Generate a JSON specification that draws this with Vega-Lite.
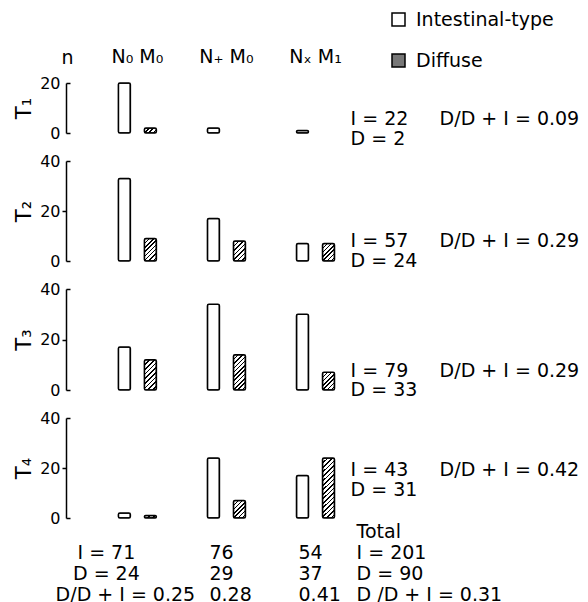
{
  "$schema": "https://vega.github.io/schema/vega-lite/v6.json",
  "padding": {"left": 13, "top": 10, "right": 5, "bottom": 2},
  "bounds": "flush",
  "spacing": 28,
  "config": {
    "font": "DejaVu Sans",
    "view": {"stroke": null},
    "text": {"font": "DejaVu Sans", "fontSize": 19, "color": "black"},
    "bar": {"stroke": "black", "strokeWidth": 1.5, "cornerRadius": 1.5},
    "axis": {"labelFont": "DejaVu Sans", "titleFont": "DejaVu Sans", "labelColor": "black", "titleColor": "black", "domainColor": "black", "tickColor": "black"},
    "legend": {"labelFont": "DejaVu Sans"}
  },
  "datasets": {
    "bars": [
      {"T": "T1", "col": "N₀ M₀", "type": "Intestinal-type", "n": 20},
      {"T": "T1", "col": "N₀ M₀", "type": "Diffuse", "n": 2},
      {"T": "T1", "col": "N₊ M₀", "type": "Intestinal-type", "n": 2},
      {"T": "T1", "col": "Nₓ M₁", "type": "Intestinal-type", "n": 1},
      {"T": "T2", "col": "N₀ M₀", "type": "Intestinal-type", "n": 33},
      {"T": "T2", "col": "N₀ M₀", "type": "Diffuse", "n": 9},
      {"T": "T2", "col": "N₊ M₀", "type": "Intestinal-type", "n": 17},
      {"T": "T2", "col": "N₊ M₀", "type": "Diffuse", "n": 8},
      {"T": "T2", "col": "Nₓ M₁", "type": "Intestinal-type", "n": 7},
      {"T": "T2", "col": "Nₓ M₁", "type": "Diffuse", "n": 7},
      {"T": "T3", "col": "N₀ M₀", "type": "Intestinal-type", "n": 17},
      {"T": "T3", "col": "N₀ M₀", "type": "Diffuse", "n": 12},
      {"T": "T3", "col": "N₊ M₀", "type": "Intestinal-type", "n": 34},
      {"T": "T3", "col": "N₊ M₀", "type": "Diffuse", "n": 14},
      {"T": "T3", "col": "Nₓ M₁", "type": "Intestinal-type", "n": 30},
      {"T": "T3", "col": "Nₓ M₁", "type": "Diffuse", "n": 7},
      {"T": "T4", "col": "N₀ M₀", "type": "Intestinal-type", "n": 2},
      {"T": "T4", "col": "N₀ M₀", "type": "Diffuse", "n": 1},
      {"T": "T4", "col": "N₊ M₀", "type": "Intestinal-type", "n": 24},
      {"T": "T4", "col": "N₊ M₀", "type": "Diffuse", "n": 7},
      {"T": "T4", "col": "Nₓ M₁", "type": "Intestinal-type", "n": 17},
      {"T": "T4", "col": "Nₓ M₁", "type": "Diffuse", "n": 24}
    ],
    "notes": [
      {"T": "T1", "col": "I/D", "label": "I = 22\nD = 2"},
      {"T": "T1", "col": "ratio", "label": "D/D + I = 0.09"},
      {"T": "T2", "col": "I/D", "label": "I = 57\nD = 24"},
      {"T": "T2", "col": "ratio", "label": "D/D + I = 0.29"},
      {"T": "T3", "col": "I/D", "label": "I = 79\nD = 33"},
      {"T": "T3", "col": "ratio", "label": "D/D + I = 0.29"},
      {"T": "T4", "col": "I/D", "label": "I = 43\nD = 31"},
      {"T": "T4", "col": "ratio", "label": "D/D + I = 0.42"}
    ],
    "totals": [
      {"col": "N₀ M₀", "stat": "I", "label": "I = 71"},
      {"col": "N₀ M₀", "stat": "D", "label": "D = 24"},
      {"col": "N₀ M₀", "stat": "R", "label": "D/D + I = 0.25"},
      {"col": "N₊ M₀", "stat": "I", "label": "76"},
      {"col": "N₊ M₀", "stat": "D", "label": "29"},
      {"col": "N₊ M₀", "stat": "R", "label": "0.28"},
      {"col": "Nₓ M₁", "stat": "I", "label": "54"},
      {"col": "Nₓ M₁", "stat": "D", "label": "37"},
      {"col": "Nₓ M₁", "stat": "R", "label": "0.41"},
      {"col": "I/D", "stat": "Total", "label": "Total"},
      {"col": "I/D", "stat": "I", "label": "I = 201"},
      {"col": "I/D", "stat": "D", "label": "D = 90"},
      {"col": "I/D", "stat": "R", "label": "D /D + I = 0.31"}
    ]
  },
  "vconcat": [
    {
      "width": 499, "height": 50,
      "encoding": {
        "x": {"field": "col", "type": "nominal", "scale": {"type": "band", "domain": ["N₀ M₀", "N₊ M₀", "Nₓ M₁", "I/D", "ratio"], "paddingInner": 0.573, "paddingOuter": 0.588},
          "axis": {"orient": "top", "domain": false, "ticks": false, "tickSize": 0, "labelAngle": 0, "labelFontSize": 19, "labelPadding": 21, "labelBaseline": "alphabetic", "labelExpr": "datum.value === 'I/D' || datum.value === 'ratio' ? '' : datum.value", "title": "n", "titleFontSize": 19, "titleFontWeight": "normal", "titleX": 1, "titleY": -20, "titleAlign": "center", "titleBaseline": "alphabetic", "titleAngle": 0}}
      },
      "layer": [
        {
          "data": {"name": "bars"},
          "transform": [{"filter": "datum.T === 'T1'"}],
          "encoding": {
            "xOffset": {"field": "type", "type": "nominal", "scale": {"domain": ["Intestinal-type", "Diffuse"], "paddingInner": 0.538, "paddingOuter": 0}},
            "y": {"field": "n", "type": "quantitative", "scale": {"domain": [0, 20], "nice": false},
              "axis": {"values": [0, 20], "grid": false, "domainWidth": 1.5, "tickWidth": 1.5, "tickSize": -4, "labelPadding": 10, "labelFontSize": 16, "title": "T₁", "titleFontSize": 21, "titleFontWeight": "normal", "titlePadding": 5}}
          },
          "layer": [
            {
              "transform": [{"filter": "datum.type === 'Intestinal-type'"}],
              "mark": {"type": "bar"},
              "encoding": {
                "fill": {"field": "type", "type": "nominal", "scale": {"domain": ["Intestinal-type", "Diffuse"], "range": ["white", "#777777"]},
                  "legend": {"title": null, "orient": "none", "legendX": 323, "legendY": -73, "symbolType": "square", "symbolSize": 169, "symbolStrokeColor": "black", "symbolStrokeWidth": 1.5, "labelFontSize": 19, "labelColor": "black", "rowPadding": 21, "labelOffset": 8, "padding": 0}}
              }
            },
            {
              "transform": [{"filter": "datum.type === 'Diffuse' && datum.n === 2"}],
              "mark": {"type": "bar", "fill": {"gradient": "linear", "x1": 0, "y1": 0, "x2": 1.207, "y2": 0.503, "stops": [
                {"offset": 0, "color": "black"}, {"offset": 0.0875, "color": "black"}, {"offset": 0.0875, "color": "white"}, {"offset": 0.25, "color": "white"},
                {"offset": 0.25, "color": "black"}, {"offset": 0.3375, "color": "black"}, {"offset": 0.3375, "color": "white"}, {"offset": 0.5, "color": "white"},
                {"offset": 0.5, "color": "black"}, {"offset": 0.5875, "color": "black"}, {"offset": 0.5875, "color": "white"}, {"offset": 0.75, "color": "white"},
                {"offset": 0.75, "color": "black"}, {"offset": 0.8375, "color": "black"}, {"offset": 0.8375, "color": "white"}, {"offset": 1, "color": "white"}]}}
            }
          ]
        },
        {
          "data": {"name": "notes"},
          "transform": [{"filter": "datum.T === 'T1'"}],
          "mark": {"type": "text", "align": "left", "baseline": "middle", "dx": -54, "lineBreak": "\n", "lineHeight": 19.5},
          "encoding": {
            "y": {"datum": 5.6, "type": "quantitative",
              "axis": {"values": [0, 20], "grid": false, "domainWidth": 1.5, "tickWidth": 1.5, "tickSize": -4, "labelPadding": 10, "labelFontSize": 16, "title": "T₁", "titleFontSize": 21, "titleFontWeight": "normal", "titlePadding": 5}},
            "text": {"field": "label", "type": "nominal"}
          }
        }
      ]
    },
    {
      "width": 499, "height": 100,
      "encoding": {
        "x": {"field": "col", "type": "nominal", "scale": {"type": "band", "domain": ["N₀ M₀", "N₊ M₀", "Nₓ M₁", "I/D", "ratio"], "paddingInner": 0.573, "paddingOuter": 0.588}, "axis": null}
      },
      "layer": [
        {
          "data": {"name": "bars"},
          "transform": [{"filter": "datum.T === 'T2'"}],
          "encoding": {
            "xOffset": {"field": "type", "type": "nominal", "scale": {"domain": ["Intestinal-type", "Diffuse"], "paddingInner": 0.538, "paddingOuter": 0}},
            "y": {"field": "n", "type": "quantitative", "scale": {"domain": [0, 40], "nice": false},
              "axis": {"values": [0, 20, 40], "grid": false, "domainWidth": 1.5, "tickWidth": 1.5, "tickSize": {"condition": {"test": "datum.value === 20", "value": 4}, "value": -4}, "labelPadding": {"condition": {"test": "datum.value === 20", "value": 2}, "value": 10}, "labelFontSize": 16, "title": "T₂", "titleFontSize": 21, "titleFontWeight": "normal", "titlePadding": 5}}
          },
          "layer": [
            {
              "transform": [{"filter": "datum.type === 'Intestinal-type'"}],
              "mark": {"type": "bar"},
              "encoding": {
                "fill": {"field": "type", "type": "nominal", "scale": {"domain": ["Intestinal-type", "Diffuse"], "range": ["white", "#777777"]},
                  "legend": {"title": null, "orient": "none", "legendX": 323, "legendY": -73, "symbolType": "square", "symbolSize": 169, "symbolStrokeColor": "black", "symbolStrokeWidth": 1.5, "labelFontSize": 19, "labelColor": "black", "rowPadding": 21, "labelOffset": 8, "padding": 0}}
              }
            },
            {
              "transform": [{"filter": "datum.type === 'Diffuse' && datum.n === 9"}],
              "mark": {"type": "bar", "fill": {"gradient": "linear", "x1": 0, "y1": 0, "x2": 0.6367, "y2": 1.1938, "stops": [
                {"offset": 0, "color": "black"}, {"offset": 0.0438, "color": "black"}, {"offset": 0.0438, "color": "white"}, {"offset": 0.125, "color": "white"},
                {"offset": 0.125, "color": "black"}, {"offset": 0.1688, "color": "black"}, {"offset": 0.1688, "color": "white"}, {"offset": 0.25, "color": "white"},
                {"offset": 0.25, "color": "black"}, {"offset": 0.2938, "color": "black"}, {"offset": 0.2938, "color": "white"}, {"offset": 0.375, "color": "white"},
                {"offset": 0.375, "color": "black"}, {"offset": 0.4188, "color": "black"}, {"offset": 0.4188, "color": "white"}, {"offset": 0.5, "color": "white"},
                {"offset": 0.5, "color": "black"}, {"offset": 0.5438, "color": "black"}, {"offset": 0.5438, "color": "white"}, {"offset": 0.625, "color": "white"},
                {"offset": 0.625, "color": "black"}, {"offset": 0.6688, "color": "black"}, {"offset": 0.6688, "color": "white"}, {"offset": 0.75, "color": "white"},
                {"offset": 0.75, "color": "black"}, {"offset": 0.7938, "color": "black"}, {"offset": 0.7938, "color": "white"}, {"offset": 0.875, "color": "white"},
                {"offset": 0.875, "color": "black"}, {"offset": 0.9188, "color": "black"}, {"offset": 0.9188, "color": "white"}, {"offset": 1, "color": "white"}]}}
            },
            {
              "transform": [{"filter": "datum.type === 'Diffuse' && datum.n === 8"}],
              "mark": {"type": "bar", "fill": {"gradient": "linear", "x1": 0, "y1": 0, "x2": 0.7059, "y2": 1.1765, "stops": [
                {"offset": 0, "color": "black"}, {"offset": 0.05, "color": "black"}, {"offset": 0.05, "color": "white"}, {"offset": 0.1429, "color": "white"},
                {"offset": 0.1429, "color": "black"}, {"offset": 0.1929, "color": "black"}, {"offset": 0.1929, "color": "white"}, {"offset": 0.2857, "color": "white"},
                {"offset": 0.2857, "color": "black"}, {"offset": 0.3357, "color": "black"}, {"offset": 0.3357, "color": "white"}, {"offset": 0.4286, "color": "white"},
                {"offset": 0.4286, "color": "black"}, {"offset": 0.4786, "color": "black"}, {"offset": 0.4786, "color": "white"}, {"offset": 0.5714, "color": "white"},
                {"offset": 0.5714, "color": "black"}, {"offset": 0.6214, "color": "black"}, {"offset": 0.6214, "color": "white"}, {"offset": 0.7143, "color": "white"},
                {"offset": 0.7143, "color": "black"}, {"offset": 0.7643, "color": "black"}, {"offset": 0.7643, "color": "white"}, {"offset": 0.8571, "color": "white"},
                {"offset": 0.8571, "color": "black"}, {"offset": 0.9071, "color": "black"}, {"offset": 0.9071, "color": "white"}, {"offset": 1, "color": "white"}]}}
            },
            {
              "transform": [{"filter": "datum.type === 'Diffuse' && datum.n === 7"}],
              "mark": {"type": "bar", "fill": {"gradient": "linear", "x1": 0, "y1": 0, "x2": 0.7862, "y2": 1.1466, "stops": [
                {"offset": 0, "color": "black"}, {"offset": 0.05, "color": "black"}, {"offset": 0.05, "color": "white"}, {"offset": 0.1429, "color": "white"},
                {"offset": 0.1429, "color": "black"}, {"offset": 0.1929, "color": "black"}, {"offset": 0.1929, "color": "white"}, {"offset": 0.2857, "color": "white"},
                {"offset": 0.2857, "color": "black"}, {"offset": 0.3357, "color": "black"}, {"offset": 0.3357, "color": "white"}, {"offset": 0.4286, "color": "white"},
                {"offset": 0.4286, "color": "black"}, {"offset": 0.4786, "color": "black"}, {"offset": 0.4786, "color": "white"}, {"offset": 0.5714, "color": "white"},
                {"offset": 0.5714, "color": "black"}, {"offset": 0.6214, "color": "black"}, {"offset": 0.6214, "color": "white"}, {"offset": 0.7143, "color": "white"},
                {"offset": 0.7143, "color": "black"}, {"offset": 0.7643, "color": "black"}, {"offset": 0.7643, "color": "white"}, {"offset": 0.8571, "color": "white"},
                {"offset": 0.8571, "color": "black"}, {"offset": 0.9071, "color": "black"}, {"offset": 0.9071, "color": "white"}, {"offset": 1, "color": "white"}]}}
            }
          ]
        },
        {
          "data": {"name": "notes"},
          "transform": [{"filter": "datum.T === 'T2'"}],
          "mark": {"type": "text", "align": "left", "baseline": "middle", "dx": -54, "lineBreak": "\n", "lineHeight": 19.5},
          "encoding": {
            "y": {"datum": 8, "type": "quantitative",
              "axis": {"values": [0, 20, 40], "grid": false, "domainWidth": 1.5, "tickWidth": 1.5, "tickSize": {"condition": {"test": "datum.value === 20", "value": 4}, "value": -4}, "labelPadding": {"condition": {"test": "datum.value === 20", "value": 2}, "value": 10}, "labelFontSize": 16, "title": "T₂", "titleFontSize": 21, "titleFontWeight": "normal", "titlePadding": 5}},
            "text": {"field": "label", "type": "nominal"}
          }
        }
      ]
    },
    {
      "width": 499, "height": 101,
      "encoding": {
        "x": {"field": "col", "type": "nominal", "scale": {"type": "band", "domain": ["N₀ M₀", "N₊ M₀", "Nₓ M₁", "I/D", "ratio"], "paddingInner": 0.573, "paddingOuter": 0.588}, "axis": null}
      },
      "layer": [
        {
          "data": {"name": "bars"},
          "transform": [{"filter": "datum.T === 'T3'"}],
          "encoding": {
            "xOffset": {"field": "type", "type": "nominal", "scale": {"domain": ["Intestinal-type", "Diffuse"], "paddingInner": 0.538, "paddingOuter": 0}},
            "y": {"field": "n", "type": "quantitative", "scale": {"domain": [0, 40], "nice": false},
              "axis": {"values": [0, 20, 40], "grid": false, "domainWidth": 1.5, "tickWidth": 1.5, "tickSize": {"condition": {"test": "datum.value === 20", "value": 4}, "value": -4}, "labelPadding": {"condition": {"test": "datum.value === 20", "value": 2}, "value": 10}, "labelFontSize": 16, "title": "T₃", "titleFontSize": 21, "titleFontWeight": "normal", "titlePadding": 5}}
          },
          "layer": [
            {
              "transform": [{"filter": "datum.type === 'Intestinal-type'"}],
              "mark": {"type": "bar"},
              "encoding": {
                "fill": {"field": "type", "type": "nominal", "scale": {"domain": ["Intestinal-type", "Diffuse"], "range": ["white", "#777777"]},
                  "legend": {"title": null, "orient": "none", "legendX": 323, "legendY": -73, "symbolType": "square", "symbolSize": 169, "symbolStrokeColor": "black", "symbolStrokeWidth": 1.5, "labelFontSize": 19, "labelColor": "black", "rowPadding": 21, "labelOffset": 8, "padding": 0}}
              }
            },
            {
              "transform": [{"filter": "datum.type === 'Diffuse' && datum.n === 12"}],
              "mark": {"type": "bar", "fill": {"gradient": "linear", "x1": 0, "y1": 0, "x2": 0.4779, "y2": 1.2068, "stops": [
                {"offset": 0, "color": "black"}, {"offset": 0.0389, "color": "black"}, {"offset": 0.0389, "color": "white"}, {"offset": 0.1111, "color": "white"},
                {"offset": 0.1111, "color": "black"}, {"offset": 0.15, "color": "black"}, {"offset": 0.15, "color": "white"}, {"offset": 0.2222, "color": "white"},
                {"offset": 0.2222, "color": "black"}, {"offset": 0.2611, "color": "black"}, {"offset": 0.2611, "color": "white"}, {"offset": 0.3333, "color": "white"},
                {"offset": 0.3333, "color": "black"}, {"offset": 0.3722, "color": "black"}, {"offset": 0.3722, "color": "white"}, {"offset": 0.4444, "color": "white"},
                {"offset": 0.4444, "color": "black"}, {"offset": 0.4833, "color": "black"}, {"offset": 0.4833, "color": "white"}, {"offset": 0.5556, "color": "white"},
                {"offset": 0.5556, "color": "black"}, {"offset": 0.5944, "color": "black"}, {"offset": 0.5944, "color": "white"}, {"offset": 0.6667, "color": "white"},
                {"offset": 0.6667, "color": "black"}, {"offset": 0.7056, "color": "black"}, {"offset": 0.7056, "color": "white"}, {"offset": 0.7778, "color": "white"},
                {"offset": 0.7778, "color": "black"}, {"offset": 0.8167, "color": "black"}, {"offset": 0.8167, "color": "white"}, {"offset": 0.8889, "color": "white"},
                {"offset": 0.8889, "color": "black"}, {"offset": 0.9278, "color": "black"}, {"offset": 0.9278, "color": "white"}, {"offset": 1, "color": "white"}]}}
            },
            {
              "transform": [{"filter": "datum.type === 'Diffuse' && datum.n === 14"}],
              "mark": {"type": "bar", "fill": {"gradient": "linear", "x1": 0, "y1": 0, "x2": 0.4077, "y2": 1.2011, "stops": [
                {"offset": 0, "color": "black"}, {"offset": 0.0318, "color": "black"}, {"offset": 0.0318, "color": "white"}, {"offset": 0.0909, "color": "white"},
                {"offset": 0.0909, "color": "black"}, {"offset": 0.1227, "color": "black"}, {"offset": 0.1227, "color": "white"}, {"offset": 0.1818, "color": "white"},
                {"offset": 0.1818, "color": "black"}, {"offset": 0.2136, "color": "black"}, {"offset": 0.2136, "color": "white"}, {"offset": 0.2727, "color": "white"},
                {"offset": 0.2727, "color": "black"}, {"offset": 0.3045, "color": "black"}, {"offset": 0.3045, "color": "white"}, {"offset": 0.3636, "color": "white"},
                {"offset": 0.3636, "color": "black"}, {"offset": 0.3955, "color": "black"}, {"offset": 0.3955, "color": "white"}, {"offset": 0.4545, "color": "white"},
                {"offset": 0.4545, "color": "black"}, {"offset": 0.4864, "color": "black"}, {"offset": 0.4864, "color": "white"}, {"offset": 0.5455, "color": "white"},
                {"offset": 0.5455, "color": "black"}, {"offset": 0.5773, "color": "black"}, {"offset": 0.5773, "color": "white"}, {"offset": 0.6364, "color": "white"},
                {"offset": 0.6364, "color": "black"}, {"offset": 0.6682, "color": "black"}, {"offset": 0.6682, "color": "white"}, {"offset": 0.7273, "color": "white"},
                {"offset": 0.7273, "color": "black"}, {"offset": 0.7591, "color": "black"}, {"offset": 0.7591, "color": "white"}, {"offset": 0.8182, "color": "white"},
                {"offset": 0.8182, "color": "black"}, {"offset": 0.85, "color": "black"}, {"offset": 0.85, "color": "white"}, {"offset": 0.9091, "color": "white"},
                {"offset": 0.9091, "color": "black"}, {"offset": 0.9409, "color": "black"}, {"offset": 0.9409, "color": "white"}, {"offset": 1, "color": "white"}]}}
            },
            {
              "transform": [{"filter": "datum.type === 'Diffuse' && datum.n === 7"}],
              "mark": {"type": "bar", "fill": {"gradient": "linear", "x1": 0, "y1": 0, "x2": 0.7794, "y2": 1.1496, "stops": [
                {"offset": 0, "color": "black"}, {"offset": 0.05, "color": "black"}, {"offset": 0.05, "color": "white"}, {"offset": 0.1429, "color": "white"},
                {"offset": 0.1429, "color": "black"}, {"offset": 0.1929, "color": "black"}, {"offset": 0.1929, "color": "white"}, {"offset": 0.2857, "color": "white"},
                {"offset": 0.2857, "color": "black"}, {"offset": 0.3357, "color": "black"}, {"offset": 0.3357, "color": "white"}, {"offset": 0.4286, "color": "white"},
                {"offset": 0.4286, "color": "black"}, {"offset": 0.4786, "color": "black"}, {"offset": 0.4786, "color": "white"}, {"offset": 0.5714, "color": "white"},
                {"offset": 0.5714, "color": "black"}, {"offset": 0.6214, "color": "black"}, {"offset": 0.6214, "color": "white"}, {"offset": 0.7143, "color": "white"},
                {"offset": 0.7143, "color": "black"}, {"offset": 0.7643, "color": "black"}, {"offset": 0.7643, "color": "white"}, {"offset": 0.8571, "color": "white"},
                {"offset": 0.8571, "color": "black"}, {"offset": 0.9071, "color": "black"}, {"offset": 0.9071, "color": "white"}, {"offset": 1, "color": "white"}]}}
            }
          ]
        },
        {
          "data": {"name": "notes"},
          "transform": [{"filter": "datum.T === 'T3'"}],
          "mark": {"type": "text", "align": "left", "baseline": "middle", "dx": -54, "lineBreak": "\n", "lineHeight": 19.5},
          "encoding": {
            "y": {"datum": 7.6, "type": "quantitative",
              "axis": {"values": [0, 20, 40], "grid": false, "domainWidth": 1.5, "tickWidth": 1.5, "tickSize": {"condition": {"test": "datum.value === 20", "value": 4}, "value": -4}, "labelPadding": {"condition": {"test": "datum.value === 20", "value": 2}, "value": 10}, "labelFontSize": 16, "title": "T₃", "titleFontSize": 21, "titleFontWeight": "normal", "titlePadding": 5}},
            "text": {"field": "label", "type": "nominal"}
          }
        }
      ]
    },
    {
      "width": 499, "height": 100,
      "encoding": {
        "x": {"field": "col", "type": "nominal", "scale": {"type": "band", "domain": ["N₀ M₀", "N₊ M₀", "Nₓ M₁", "I/D", "ratio"], "paddingInner": 0.573, "paddingOuter": 0.588}, "axis": null}
      },
      "layer": [
        {
          "data": {"name": "bars"},
          "transform": [{"filter": "datum.T === 'T4'"}],
          "encoding": {
            "xOffset": {"field": "type", "type": "nominal", "scale": {"domain": ["Intestinal-type", "Diffuse"], "paddingInner": 0.538, "paddingOuter": 0}},
            "y": {"field": "n", "type": "quantitative", "scale": {"domain": [0, 40], "nice": false},
              "axis": {"values": [0, 20, 40], "grid": false, "domainWidth": 1.5, "tickWidth": 1.5, "tickSize": {"condition": {"test": "datum.value === 20", "value": 4}, "value": -4}, "labelPadding": {"condition": {"test": "datum.value === 20", "value": 2}, "value": 10}, "labelFontSize": 16, "title": "T₄", "titleFontSize": 21, "titleFontWeight": "normal", "titlePadding": 5}}
          },
          "layer": [
            {
              "transform": [{"filter": "datum.type === 'Intestinal-type'"}],
              "mark": {"type": "bar"},
              "encoding": {
                "fill": {"field": "type", "type": "nominal", "scale": {"domain": ["Intestinal-type", "Diffuse"], "range": ["white", "#777777"]},
                  "legend": {"title": null, "orient": "none", "legendX": 323, "legendY": -73, "symbolType": "square", "symbolSize": 169, "symbolStrokeColor": "black", "symbolStrokeWidth": 1.5, "labelFontSize": 19, "labelColor": "black", "rowPadding": 21, "labelOffset": 8, "padding": 0}}
              }
            },
            {
              "transform": [{"filter": "datum.type === 'Diffuse' && datum.n === 1"}],
              "mark": {"type": "bar", "fill": {"gradient": "linear", "x1": 0, "y1": 0, "x2": 1.158, "y2": 0.2413, "stops": [
                {"offset": 0, "color": "black"}, {"offset": 0.1167, "color": "black"}, {"offset": 0.1167, "color": "white"}, {"offset": 0.3333, "color": "white"},
                {"offset": 0.3333, "color": "black"}, {"offset": 0.45, "color": "black"}, {"offset": 0.45, "color": "white"}, {"offset": 0.6667, "color": "white"},
                {"offset": 0.6667, "color": "black"}, {"offset": 0.7833, "color": "black"}, {"offset": 0.7833, "color": "white"}, {"offset": 1, "color": "white"}]}}
            },
            {
              "transform": [{"filter": "datum.type === 'Diffuse' && datum.n === 7"}],
              "mark": {"type": "bar", "fill": {"gradient": "linear", "x1": 0, "y1": 0, "x2": 0.7862, "y2": 1.1466, "stops": [
                {"offset": 0, "color": "black"}, {"offset": 0.05, "color": "black"}, {"offset": 0.05, "color": "white"}, {"offset": 0.1429, "color": "white"},
                {"offset": 0.1429, "color": "black"}, {"offset": 0.1929, "color": "black"}, {"offset": 0.1929, "color": "white"}, {"offset": 0.2857, "color": "white"},
                {"offset": 0.2857, "color": "black"}, {"offset": 0.3357, "color": "black"}, {"offset": 0.3357, "color": "white"}, {"offset": 0.4286, "color": "white"},
                {"offset": 0.4286, "color": "black"}, {"offset": 0.4786, "color": "black"}, {"offset": 0.4786, "color": "white"}, {"offset": 0.5714, "color": "white"},
                {"offset": 0.5714, "color": "black"}, {"offset": 0.6214, "color": "black"}, {"offset": 0.6214, "color": "white"}, {"offset": 0.7143, "color": "white"},
                {"offset": 0.7143, "color": "black"}, {"offset": 0.7643, "color": "black"}, {"offset": 0.7643, "color": "white"}, {"offset": 0.8571, "color": "white"},
                {"offset": 0.8571, "color": "black"}, {"offset": 0.9071, "color": "black"}, {"offset": 0.9071, "color": "white"}, {"offset": 1, "color": "white"}]}}
            },
            {
              "transform": [{"filter": "datum.type === 'Diffuse' && datum.n === 24"}],
              "mark": {"type": "bar", "fill": {"gradient": "linear", "x1": 0, "y1": 0, "x2": 0.2308, "y2": 1.1538, "stops": [
                {"offset": 0, "color": "black"}, {"offset": 0.0219, "color": "black"}, {"offset": 0.0219, "color": "white"}, {"offset": 0.0625, "color": "white"},
                {"offset": 0.0625, "color": "black"}, {"offset": 0.0844, "color": "black"}, {"offset": 0.0844, "color": "white"}, {"offset": 0.125, "color": "white"},
                {"offset": 0.125, "color": "black"}, {"offset": 0.1469, "color": "black"}, {"offset": 0.1469, "color": "white"}, {"offset": 0.1875, "color": "white"},
                {"offset": 0.1875, "color": "black"}, {"offset": 0.2094, "color": "black"}, {"offset": 0.2094, "color": "white"}, {"offset": 0.25, "color": "white"},
                {"offset": 0.25, "color": "black"}, {"offset": 0.2719, "color": "black"}, {"offset": 0.2719, "color": "white"}, {"offset": 0.3125, "color": "white"},
                {"offset": 0.3125, "color": "black"}, {"offset": 0.3344, "color": "black"}, {"offset": 0.3344, "color": "white"}, {"offset": 0.375, "color": "white"},
                {"offset": 0.375, "color": "black"}, {"offset": 0.3969, "color": "black"}, {"offset": 0.3969, "color": "white"}, {"offset": 0.4375, "color": "white"},
                {"offset": 0.4375, "color": "black"}, {"offset": 0.4594, "color": "black"}, {"offset": 0.4594, "color": "white"}, {"offset": 0.5, "color": "white"},
                {"offset": 0.5, "color": "black"}, {"offset": 0.5219, "color": "black"}, {"offset": 0.5219, "color": "white"}, {"offset": 0.5625, "color": "white"},
                {"offset": 0.5625, "color": "black"}, {"offset": 0.5844, "color": "black"}, {"offset": 0.5844, "color": "white"}, {"offset": 0.625, "color": "white"},
                {"offset": 0.625, "color": "black"}, {"offset": 0.6469, "color": "black"}, {"offset": 0.6469, "color": "white"}, {"offset": 0.6875, "color": "white"},
                {"offset": 0.6875, "color": "black"}, {"offset": 0.7094, "color": "black"}, {"offset": 0.7094, "color": "white"}, {"offset": 0.75, "color": "white"},
                {"offset": 0.75, "color": "black"}, {"offset": 0.7719, "color": "black"}, {"offset": 0.7719, "color": "white"}, {"offset": 0.8125, "color": "white"},
                {"offset": 0.8125, "color": "black"}, {"offset": 0.8344, "color": "black"}, {"offset": 0.8344, "color": "white"}, {"offset": 0.875, "color": "white"},
                {"offset": 0.875, "color": "black"}, {"offset": 0.8969, "color": "black"}, {"offset": 0.8969, "color": "white"}, {"offset": 0.9375, "color": "white"},
                {"offset": 0.9375, "color": "black"}, {"offset": 0.9594, "color": "black"}, {"offset": 0.9594, "color": "white"}, {"offset": 1, "color": "white"}]}}
            }
          ]
        },
        {
          "data": {"name": "notes"},
          "transform": [{"filter": "datum.T === 'T4'"}],
          "mark": {"type": "text", "align": "left", "baseline": "middle", "dx": -54, "lineBreak": "\n", "lineHeight": 19.5},
          "encoding": {
            "y": {"datum": 19.2, "type": "quantitative",
              "axis": {"values": [0, 20, 40], "grid": false, "domainWidth": 1.5, "tickWidth": 1.5, "tickSize": {"condition": {"test": "datum.value === 20", "value": 4}, "value": -4}, "labelPadding": {"condition": {"test": "datum.value === 20", "value": 2}, "value": 10}, "labelFontSize": 16, "title": "T₄", "titleFontSize": 21, "titleFontWeight": "normal", "titlePadding": 5}},
            "text": {"field": "label", "type": "nominal"}
          }
        }
      ]
    },
    {
      "width": 499, "height": 63,
      "data": {"name": "totals"},
      "encoding": {
        "x": {"field": "col", "type": "nominal", "scale": {"type": "band", "domain": ["N₀ M₀", "N₊ M₀", "Nₓ M₁", "I/D", "ratio"], "paddingInner": 0.573, "paddingOuter": 0.588}, "axis": null},
        "y": {"field": "stat", "type": "nominal", "scale": {"type": "point", "domain": ["Total", "I", "D", "R"], "padding": 0}, "axis": null},
        "text": {"field": "label", "type": "nominal"}
      },
      "layer": [
        {"transform": [{"filter": "datum.col === 'N₀ M₀' && datum.stat !== 'R'"}], "mark": {"type": "text", "align": "center", "baseline": "alphabetic", "dx": -31, "dy": -8}},
        {"transform": [{"filter": "datum.col === 'N₀ M₀' && datum.stat === 'R'"}], "mark": {"type": "text", "align": "center", "baseline": "alphabetic", "dx": -12, "dy": -8}},
        {"transform": [{"filter": "datum.col === 'N₊ M₀' || datum.col === 'Nₓ M₁'"}], "mark": {"type": "text", "align": "left", "baseline": "alphabetic", "dx": -17, "dy": -8}},
        {"transform": [{"filter": "datum.col === 'I/D'"}], "mark": {"type": "text", "align": "left", "baseline": "alphabetic", "dx": -48, "dy": -8}}
      ]
    }
  ]
}
